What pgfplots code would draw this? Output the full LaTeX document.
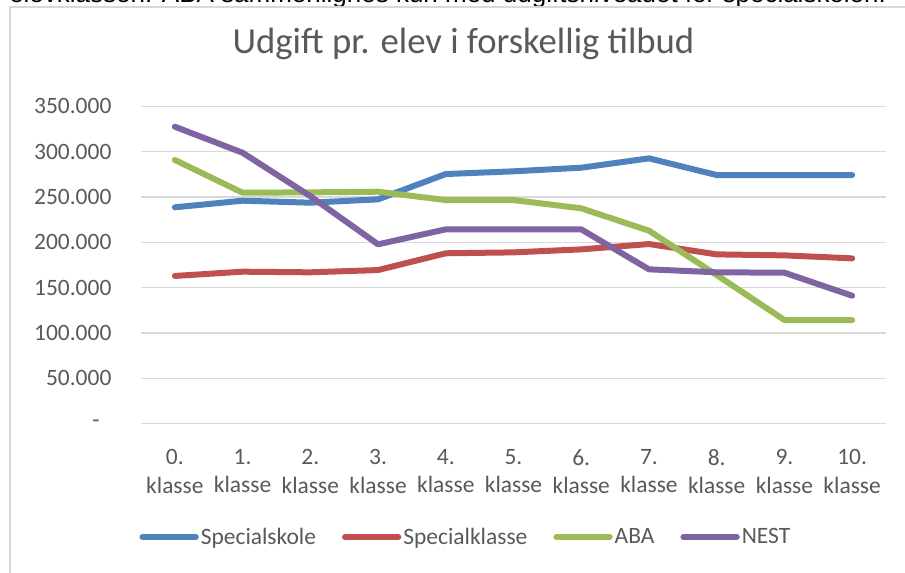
\documentclass[border=0pt]{standalone}
\usepackage{fontspec}
\setmainfont{Carlito}
\newfontfamily\arialfont{Liberation Sans}
\usepackage{pgfplots}
\pgfplotsset{compat=1.18}
\definecolor{cBlue}{HTML}{4F81BD}
\definecolor{cRed}{HTML}{C0504D}
\definecolor{cGreen}{HTML}{9BBB59}
\definecolor{cPurple}{HTML}{8064A2}
\definecolor{txt}{HTML}{595959}
\definecolor{gridc}{HTML}{D9D9D9}
\begin{document}
\begin{tikzpicture}
\useasboundingbox (0pt,0pt) rectangle (678.75pt,429pt);
\node[anchor=base west, inner sep=0, font=\arialfont\fontsize{19.5}{20}\selectfont] at (6.75pt,427.1pt) {elevklassen. ABA sammenlignes kun med udgiftsniveauet for specialskolen.};
\draw[gridc, line width=1.1pt] (7.5pt,423.75pt) rectangle (705pt,-21pt);
\begin{axis}[
  at={(105.75pt,111.2pt)}, anchor=south west,
  scale only axis, width=558.75pt, height=238pt,
  xmin=-0.5, xmax=10.5, ymin=0, ymax=350000,
  axis line style={draw=none},
  major tick length=0pt,
  scaled y ticks=false,
  ytick={0,50000,100000,150000,200000,250000,300000,350000},
  yticklabels={{-\hphantom{0}},50.000,100.000,150.000,200.000,250.000,300.000,350.000},
  xtick={0,1,2,3,4,5,6,7,8,9,10},
  xticklabels={{0.\\klasse},{1.\\klasse},{2.\\klasse},{3.\\klasse},{4.\\klasse},{5.\\klasse},{6.\\klasse},{7.\\klasse},{8.\\klasse},{9.\\klasse},{10.\\klasse}},
  tick label style={font=\fontsize{17.6}{21.4}\selectfont, text=txt},
  yticklabel style={inner sep=0pt, anchor=east, xshift=-22pt},
  xticklabel style={align=center, inner sep=0pt, anchor=north, yshift=-19pt},
  ymajorgrids, grid style={gridc, line width=1.1pt},
  title={Udgift pr. elev i forskellig tilbud},
  title style={at={(0.4329,1.1714)}, anchor=center, font=\fontsize{27.5}{30}\selectfont, text=txt},
  legend columns=4,
  legend image code/.code={\draw[#1] (0pt,0pt) -- (40pt,0pt);},
  legend style={at={(0.436,-0.357)}, anchor=center, draw=none, fill=none,
    font=\fontsize{17.6}{21.4}\selectfont, text=txt,
    nodes={inner xsep=1.5pt, inner ysep=2pt},
    /tikz/every even column/.append style={column sep=18pt}},
  every axis plot/.append style={line width=4.5pt, line cap=round, line join=round, mark=none},
  clip=false,
]
\addplot[cBlue] coordinates {(0,238700) (1,246000) (2,243800) (3,247500) (4,275400) (5,278400) (6,282400) (7,292700) (8,274300) (9,274300) (10,274300)};
\addlegendentry{Specialskole}
\addplot[cRed] coordinates {(0,163000) (1,167700) (2,167000) (3,169500) (4,188000) (5,189000) (6,192300) (7,198200) (8,186800) (9,185700) (10,182400)};
\addlegendentry{Specialklasse}
\addplot[cGreen] coordinates {(0,290900) (1,254800) (2,255200) (3,255900) (4,246700) (5,246700) (6,237600) (7,212900) (8,164000) (9,114400) (10,114400)};
\addlegendentry{ABA}
\addplot[cPurple] coordinates {(0,327600) (1,298900) (2,251000) (3,197900) (4,214400) (5,214400) (6,214400) (7,170300) (8,167000) (9,166600) (10,141200)};
\addlegendentry{NEST}
\end{axis}
\end{tikzpicture}
\end{document}
